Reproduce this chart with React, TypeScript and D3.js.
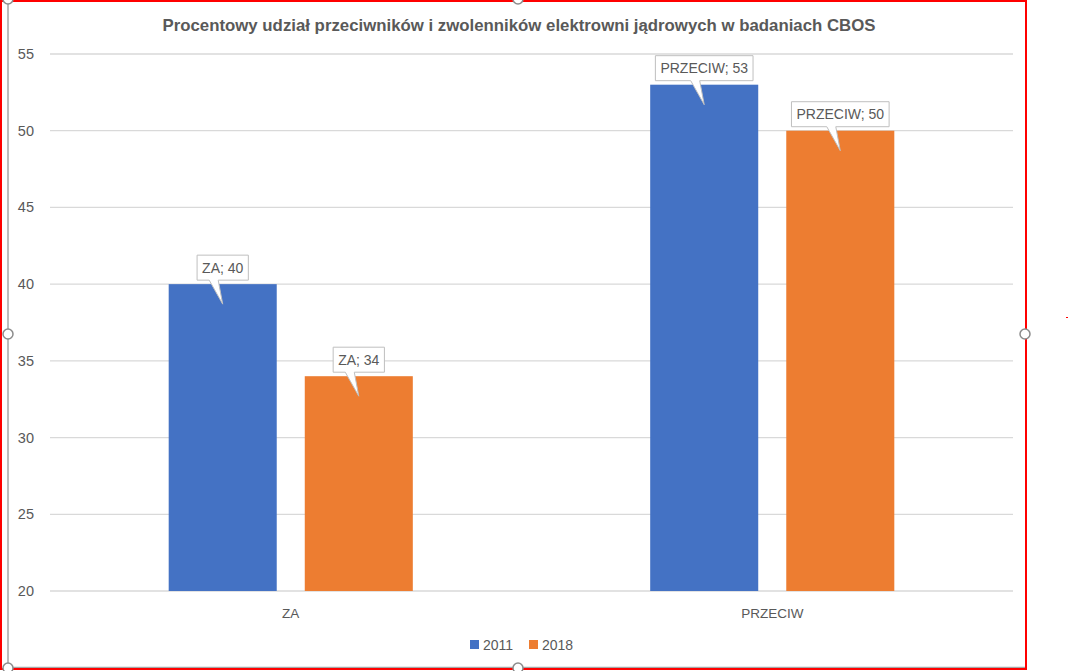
import React, { useEffect, useRef } from "react";
import * as d3 from "d3";

const title = "Procentowy udział przeciwników i zwolenników elektrowni jądrowych w badaniach CBOS";
const categories = ["ZA", "PRZECIW"];
const seriesNames = ["2011", "2018"];
const values2011 = [40, 53];
const values2018 = [34, 50];
const seriesColors = ["#4472C4", "#ED7D31"];
const yTicks = [20, 25, 30, 35, 40, 45, 50, 55];

const W = 1068;
const H = 671;
const FONT = "'Liberation Sans', Arial, sans-serif";
const TXT = "#595959";

export default function App() {
  const ref = useRef<SVGSVGElement | null>(null);

  useEffect(() => {
    const svg = d3.select(ref.current);
    svg.selectAll("*").remove();

    const left = 50, right = 1013, top = 54, bottom = 591;
    const y = d3.scaleLinear().domain([20, 55]).range([bottom, top]);
    const x0 = d3.scaleBand<string>().domain(categories).range([left, right]).paddingInner(0.493).paddingOuter(0.2465);
    const x1 = d3.scaleBand<string>().domain(seriesNames).range([0, x0.bandwidth()]).paddingInner(0.206).paddingOuter(0);

    svg.append("rect").attr("x", 0).attr("y", 0).attr("width", W).attr("height", H).attr("fill", "#fff");

    // title
    svg.append("text").attr("x", 519).attr("y", 31).attr("text-anchor", "middle")
      .attr("font-family", FONT).attr("font-weight", "bold").attr("font-size", 16.5).attr("fill", TXT)
      .attr("textLength", 713).attr("lengthAdjust", "spacingAndGlyphs").text(title);

    // gridlines
    svg.append("g").selectAll("line").data(yTicks).join("line")
      .attr("x1", left).attr("x2", right).attr("y1", (d) => y(d)).attr("y2", (d) => y(d))
      .attr("stroke", "#d9d9d9").attr("stroke-width", 1.3);

    svg.append("g").selectAll("text").data(yTicks).join("text")
      .attr("x", 34).attr("y", (d) => y(d) + 5).attr("text-anchor", "end")
      .attr("font-family", FONT).attr("font-size", 14.5).attr("fill", TXT).text((d) => String(d));

    const seriesValues = [values2011, values2018];
    const data: { cat: string; ser: string; v: number; color: string }[] = [];
    categories.forEach((c, ci) => seriesNames.forEach((s, si) => data.push({ cat: c, ser: s, v: seriesValues[si][ci], color: seriesColors[si] })));

    svg.append("g").selectAll("rect").data(data).join("rect")
      .attr("x", (d) => (x0(d.cat) as number) + (x1(d.ser) as number))
      .attr("width", x1.bandwidth())
      .attr("y", (d) => y(d.v))
      .attr("height", (d) => y(20) - y(d.v))
      .attr("fill", (d) => d.color);

    // category labels
    svg.append("g").selectAll("text").data(categories).join("text")
      .attr("x", (d) => (x0(d) as number) + x0.bandwidth() / 2).attr("y", 618)
      .attr("text-anchor", "middle").attr("font-family", FONT).attr("font-size", 13.5).attr("fill", TXT)
      .text((d) => d);

    // callouts
    const cg = svg.append("g");
    data.forEach((d) => {
      const cx = (x0(d.cat) as number) + (x1(d.ser) as number) + x1.bandwidth() / 2;
      const barTop = y(d.v);
      const g = cg.append("g");
      const t = g.append("text").attr("x", cx).attr("y", 0).attr("text-anchor", "middle")
        .attr("font-family", FONT).attr("font-size", 14).attr("fill", TXT).text(`${d.cat}; ${d.v}`);
      const tw = (t.node() as SVGTextElement).getComputedTextLength();
      const bw = tw + 10, bh = 25;
      const bb = barTop - 4;
      const bt = bb - bh;
      const tipY = barTop + 20;
      g.insert("path", "text")
        .attr("d", `M${cx - bw / 2},${bt} H${cx + bw / 2} V${bb} H${cx - 4.5} L${cx},${tipY} L${cx - 13.5},${bb} H${cx - bw / 2} Z`)
        .attr("fill", "#fff").attr("stroke", "#bfbfbf").attr("stroke-width", 1);
      t.attr("y", bt + bh / 2 + 5);
    });

    // legend
    const lg = svg.append("g");
    const legX = [470, 529];
    seriesNames.forEach((s, i) => {
      lg.append("rect").attr("x", legX[i]).attr("y", 640).attr("width", 9).attr("height", 9).attr("fill", seriesColors[i]);
      lg.append("text").attr("x", legX[i] + 13).attr("y", 650).attr("font-family", FONT).attr("font-size", 14)
        .attr("fill", TXT).text(s);
    });

    // selection frame
    svg.append("line").attr("x1", 8).attr("x2", 8).attr("y1", 0).attr("y2", 668).attr("stroke", "#a6a6a6").attr("stroke-width", 1.5);
    svg.append("line").attr("x1", 8).attr("x2", 1026).attr("y1", 667.5).attr("y2", 667.5).attr("stroke", "#a6a6a6").attr("stroke-width", 1.5);
    svg.append("rect").attr("x", 1).attr("y", 1).attr("width", 1025).attr("height", 668)
      .attr("fill", "none").attr("stroke", "#ff0000").attr("stroke-width", 2);
    const handles = [[8, -1], [518, -1], [8, 334], [1025, 334], [8, 668], [518, 668]];
    svg.append("g").selectAll("circle").data(handles).join("circle")
      .attr("cx", (d) => d[0]).attr("cy", (d) => d[1]).attr("r", 5)
      .attr("fill", "#fff").attr("stroke", "#8c8c8c").attr("stroke-width", 1.5);
    svg.append("rect").attr("x", 1066).attr("y", 317).attr("width", 2).attr("height", 1).attr("fill", "#ff0000");
  }, []);

  return (
    <svg ref={ref} width={W} height={H} style={{ position: "absolute", left: 0, top: 0, display: "block" }} />
  );
}
